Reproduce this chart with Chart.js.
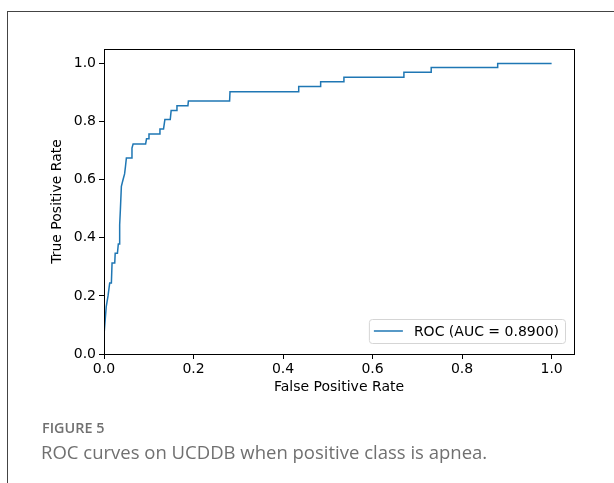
<!DOCTYPE html>
<html>
<head>
<meta charset="utf-8">
<script src="https://cdn.jsdelivr.net/npm/chart.js@4.4.0/dist/chart.umd.min.js"></script>
<style>
  html, body { margin: 0; padding: 0; background: #fff; }
  #wrap { position: relative; width: 614px; height: 483px; overflow: hidden; }
  #frame { position: absolute; left: 7px; top: 11px; width: 620px; height: 480px;
           border-left: 1px solid #444; border-top: 1px solid #444; box-sizing: border-box; }
  canvas { position: absolute; left: 0; top: 0; }
  .cap1 { position: absolute; left: 42px; top: 418px; font-family: "Open Sans", sans-serif;
          font-size: 14.4px; color: #707070; font-weight: 600; }
  .cap2 { position: absolute; left: 41px; top: 439px; font-family: "Open Sans", sans-serif;
          font-size: 18.5px; color: #707070; }
</style>
</head>
<body>
<div id="wrap">
  <div id="frame"></div>
  <canvas id="c" width="614" height="483"></canvas>
  <div class="cap1">FIGURE 5</div>
  <div class="cap2">ROC curves on UCDDB when positive class is apnea.</div>
</div>
<script>
const fpr = [0, 0, 0.005, 0.009, 0.0127, 0.0165, 0.018, 0.024, 0.025, 0.030, 0.032, 0.034,
  0.035, 0.0366, 0.0388, 0.0425, 0.046, 0.048, 0.05, 0.061, 0.0625, 0.065, 0.093, 0.095,
  0.0998, 0.1005, 0.124, 0.125, 0.133, 0.136, 0.148, 0.150, 0.1615, 0.163, 0.1875, 0.1885,
  0.2806, 0.2815, 0.435, 0.435, 0.484, 0.484, 0.536, 0.536, 0.670, 0.670, 0.731, 0.731,
  0.8795, 0.8795, 1.0];
const tpr = [0, 0.066, 0.163, 0.2, 0.244, 0.244, 0.313, 0.313, 0.347, 0.347, 0.379, 0.379,
  0.445, 0.497, 0.577, 0.6, 0.62, 0.646, 0.675, 0.675, 0.709, 0.723, 0.723, 0.741,
  0.741, 0.757, 0.757, 0.775, 0.775, 0.807, 0.807, 0.838, 0.838, 0.855, 0.855, 0.871,
  0.871, 0.903, 0.903, 0.921, 0.921, 0.937, 0.937, 0.953, 0.953, 0.970, 0.970, 0.986,
  0.986, 1.0, 1.0];
const xTicks = [0.0, 0.2, 0.4, 0.6, 0.8, 1.0];
const yTicks = [0.0, 0.2, 0.4, 0.6, 0.8, 1.0];
const seriesLabel = 'ROC (AUC = 0.8900)';
const xTitle = 'False Positive Rate';
const yTitle = 'True Positive Rate';

const FONT = 'DejaVu Sans';
const FS = 14;

const boxPlugin = {
  id: 'boxPlugin',
  afterDraw(chart) {
    const {ctx, chartArea: a} = chart;
    ctx.save();
    ctx.strokeStyle = '#000';
    ctx.lineWidth = 1;
    ctx.strokeRect(Math.round(a.left) + 0.5, Math.round(a.top) + 0.5,
                   Math.round(a.right - a.left), Math.round(a.bottom - a.top));
    // legend
    const ds = chart.data.datasets[0];
    ctx.font = FS + 'px "' + FONT + '"';
    const tw = ctx.measureText(ds.label).width;
    const w = 5 + 29 + 11 + tw + 6;
    const h = 24;
    const right = a.right - 9;
    const bottom = a.bottom - 11;
    const left = right - w, top = bottom - h;
    ctx.beginPath();
    if (ctx.roundRect) ctx.roundRect(left + 0.5, top + 0.5, w, h, 3); else ctx.rect(left + 0.5, top + 0.5, w, h);
    ctx.fillStyle = 'rgba(255,255,255,0.8)';
    ctx.fill();
    ctx.strokeStyle = '#d5d5d5';
    ctx.stroke();
    const cy = top + h / 2;
    ctx.beginPath();
    ctx.moveTo(left + 5, cy); ctx.lineTo(left + 34, cy);
    ctx.strokeStyle = ds.borderColor; ctx.lineWidth = 1.5; ctx.stroke();
    ctx.fillStyle = '#000';
    ctx.textBaseline = 'middle';
    ctx.fillText(ds.label, left + 45, cy + 1);
    ctx.restore();
  }
};

new Chart(document.getElementById('c'), {
  type: 'scatter',
  data: {
    datasets: [{
      label: seriesLabel,
      data: fpr.map((x, i) => ({x: x, y: tpr[i]})),
      showLine: true,
      borderColor: '#1f77b4',
      borderWidth: 1.5,
      pointRadius: 0,
      fill: false,
      tension: 0
    }]
  },
  options: {
    responsive: false,
    animation: false,
    layout: { padding: { left: 49, top: 49, right: 40, bottom: 83 } },
    plugins: { legend: { display: false }, tooltip: { enabled: false } },
    scales: {
      x: {
        type: 'linear', min: 0, max: 1.05,
        afterBuildTicks: s => { s.ticks = xTicks.map(v => ({value: v})); },
        afterFit: s => { s.height = 46; },
        grid: { display: true, drawOnChartArea: false, drawTicks: true, tickLength: 5, color: '#000' },
        border: { display: true, color: '#000' },
        ticks: { color: '#000', font: { family: FONT, size: FS }, padding: 2, maxRotation: 0,
                 callback: v => v.toFixed(1) },
        title: { display: true, text: xTitle, color: '#000', font: { family: FONT, size: FS },
                 padding: { top: 0, bottom: 4 } }
      },
      y: {
        type: 'linear', min: 0, max: 1.05,
        afterBuildTicks: s => { s.ticks = yTicks.map(v => ({value: v})); },
        afterFit: s => { s.width = 55; },
        grid: { display: true, drawOnChartArea: false, drawTicks: true, tickLength: 5, color: '#000' },
        border: { display: true, color: '#000' },
        ticks: { color: '#000', font: { family: FONT, size: FS }, padding: 3,
                 callback: v => v.toFixed(1) },
        title: { display: true, text: yTitle, color: '#000', font: { family: FONT, size: FS },
                 padding: { top: 0, bottom: 0 } }
      }
    }
  },
  plugins: [boxPlugin]
});
</script>
</body>
</html>
